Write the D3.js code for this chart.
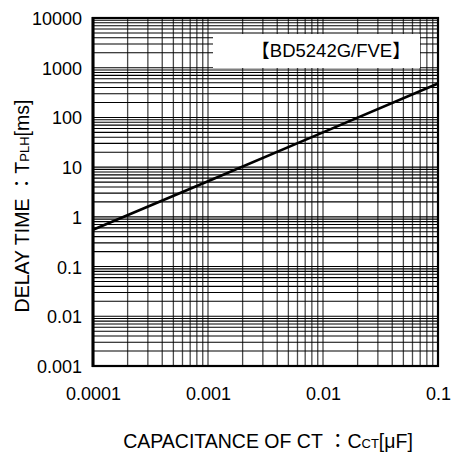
<!DOCTYPE html>
<html><head><meta charset="utf-8">
<script src="https://cdn.jsdelivr.net/npm/d3@7"></script>
<style>body{margin:0;background:#fff} text{font-family:"Liberation Sans",Arial,"Noto Sans CJK JP",sans-serif;}</style>
</head><body>
<svg id="c" width="461" height="459"></svg>
<script>
// ---- data ----
const capacitance = [0.0001, 0.001, 0.01, 0.1];      // uF
const delayTime   = [0.55, 5.2, 50, 480];             // ms
const xTicks = [0.0001, 0.001, 0.01, 0.1];
const xTickLabels = ["0.0001", "0.001", "0.01", "0.1"];
const yTicks = [0.001, 0.01, 0.1, 1, 10, 100, 1000, 10000];
const yTickLabels = ["0.001", "0.01", "0.1", "1", "10", "100", "1000", "10000"];
const legendLabel = "【BD5242G/FVE】";
const xTitle = ["CAPACITANCE OF CT ：C", "CT", "[μF]"];
const yTitle = ["DELAY TIME ：T", "PLH", "[ms]"];

const svg = d3.select("#c");
const L = 93, R = 438, T = 18, B = 366;
const x = d3.scaleLog().domain([1e-4, 1e-1]).range([L, R]);
const y = d3.scaleLog().domain([1e-3, 1e4]).range([B, T]);

// grid values (1..9 in each decade)
function gridVals(lo, hi) {
  const out = [];
  for (let e = Math.round(Math.log10(lo)); e < Math.round(Math.log10(hi)); e++) {
    for (let m = 1; m <= 9; m++) out.push(m * Math.pow(10, e));
  }
  out.push(hi);
  return out;
}
const g = svg.append("g");
g.selectAll("line.v").data(gridVals(1e-4, 1e-1)).join("line")
  .attr("x1", d => x(d)).attr("x2", d => x(d)).attr("y1", T).attr("y2", B)
  .attr("stroke", "#4a4a4a").attr("stroke-width", 1.3);
g.selectAll("line.h").data(gridVals(1e-3, 1e4)).join("line")
  .attr("x1", L).attr("x2", R).attr("y1", d => y(d)).attr("y2", d => y(d))
  .attr("stroke", "#000").attr("stroke-width", 1.1);

// legend box
svg.append("rect").attr("x", 213).attr("y", 34).attr("width", 207).attr("height", 34).attr("fill", "#fff");
svg.append("text").attr("x", 331).attr("y", 57).attr("text-anchor", "middle")
  .attr("font-size", 18.5).attr("fill", "#000").text(legendLabel);

// curve
const line = d3.line().x((d, i) => x(capacitance[i])).y(d => y(d));
svg.append("path").datum(delayTime).attr("d", line)
  .attr("fill", "none").attr("stroke", "#000").attr("stroke-width", 2.6);

// frame
svg.append("rect").attr("x", L).attr("y", T).attr("width", R - L).attr("height", B - T)
  .attr("fill", "none").attr("stroke", "#000").attr("stroke-width", 2.2);
svg.append("line").attr("x1", L).attr("x2", L).attr("y1", T - 1).attr("y2", B + 1)
  .attr("stroke", "#000").attr("stroke-width", 3);

// axes
const xAxis = d3.axisBottom(x).tickValues(xTicks).tickSize(0).tickPadding(0)
  .tickFormat((d, i) => xTickLabels[i]);
const xg = svg.append("g").attr("transform", `translate(0,${B})`).call(xAxis);
xg.select(".domain").remove();
xg.selectAll("text").attr("font-size", 18).attr("fill", "#000").attr("dy", null).attr("y", 34)
  .style("font-family", '"Liberation Sans",Arial,sans-serif');

const yAxis = d3.axisLeft(y).tickValues(yTicks).tickSize(0).tickPadding(0)
  .tickFormat((d, i) => yTickLabels[i]);
const yg = svg.append("g").attr("transform", `translate(${L},0)`).call(yAxis);
yg.select(".domain").remove();
yg.selectAll("text").attr("font-size", 18).attr("fill", "#000").attr("x", -11).attr("dy", "0.36em")
  .style("font-family", '"Liberation Sans",Arial,sans-serif');

// titles
const xt = svg.append("text").attr("x", 268).attr("y", 448).attr("text-anchor", "middle")
  .attr("font-size", 19.5).attr("fill", "#000");
xt.append("tspan").text(xTitle[0]);
xt.append("tspan").attr("font-size", 13).text(xTitle[1]);
xt.append("tspan").text(xTitle[2]);

const yt = svg.append("text").attr("transform", "translate(29,206) rotate(-90)").attr("text-anchor", "middle")
  .attr("font-size", 19.5).attr("fill", "#000");
yt.append("tspan").text(yTitle[0]);
yt.append("tspan").attr("font-size", 13).text(yTitle[1]);
yt.append("tspan").text(yTitle[2]);
</script>
</body></html>
